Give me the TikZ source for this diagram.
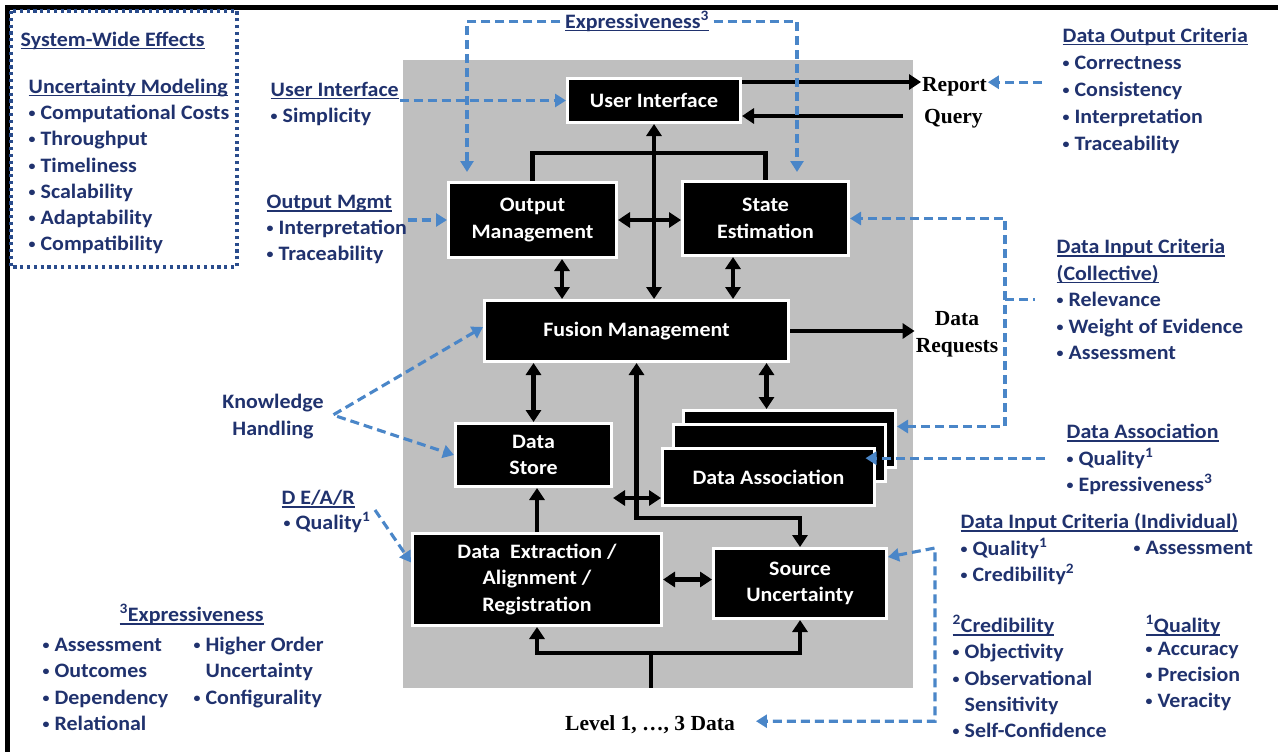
\documentclass[tikz,border=0pt]{standalone}
\usepackage{fontspec}
\usetikzlibrary{arrows.meta}
\newfontfamily\cbf{Carlito}[FakeStretch=1.07]
\newfontfamily\tbf{Liberation Serif}
\definecolor{navy}{RGB}{32,50,110}
\definecolor{dblue}{RGB}{74,134,200}
\definecolor{dotblue}{RGB}{42,76,140}
\definecolor{panelgray}{RGB}{191,191,191}
% underlined heading
\newcommand\ulhd[1]{\setbox0\hbox{#1}\rlap{\rule[-3pt]{\wd0}{1.4pt}}\box0}
% small list bullet
\newcommand\bu{{\fontsize{13}{13}\selectfont\raisebox{2pt}{•}}\hspace{5pt}}
% list of left-aligned lines: name, x, first baseline, line step, lines
\newcommand\labellist[5]{%
  \foreach \t [count=\i from 0] in {#5}{%
    \node[lbl, anchor=base west] (#1-\i) at ({#2},{#3+\i*#4}) {\t};}}
\begin{document}
\begin{tikzpicture}[x=1pt,y=-1pt,
  lbl/.style={font=\cbf\bfseries\fontsize{20.5}{26}\selectfont, text=navy, inner sep=0.5pt},
  tlbl/.style={font=\tbf\bfseries\fontsize{21.5}{25}\selectfont, text=black, inner sep=1pt},
  blk/.style={fill=black, draw=white, line width=3pt, text=white, align=center, inner sep=0pt,
              font=\cbf\bfseries\fontsize{20.5}{26.5}\selectfont},
  ln/.style={line width=4.2pt},
  arr/.style={ln, -{Triangle[length=12pt,width=15pt]}},
  dbl/.style={ln, {Triangle[length=12pt,width=15pt]}-{Triangle[length=12pt,width=15pt]}},
  dashb/.style={draw=dblue, line width=3.1pt, dash pattern=on 9pt off 5pt},
  dto/.style={dashb, -{Triangle[length=11pt,width=13pt]}},
  dboth/.style={dashb, {Triangle[length=11pt,width=13pt]}-{Triangle[length=11pt,width=13pt]}},
]
\useasboundingbox (0,0) rectangle (1278,752);
\fill[white] (0,0) rectangle (1278,752);

% frame and grey panel
\draw[line width=4.5pt] (1278,7.5) -- (7.5,7.5) -- (7.5,752);
\fill[panelgray] (403,60) rectangle (913,688);
\draw[dotblue, line width=3.2pt, dash pattern=on 3.2pt off 3.6pt] (11,11) rectangle (237,267);

% processing blocks
\node[blk, minimum width=173pt, minimum height=44pt] (UI) at (654,100.5) {User Interface};
\node[blk, minimum width=168pt, minimum height=75pt] (OM) at (532.5,220) {Output\\Management};
\node[blk, minimum width=166pt, minimum height=74pt] (SE) at (765.5,218.5) {State\\Estimation};
\node[blk, minimum width=304pt, minimum height=61pt] (FM) at (636.5,331) {Fusion Management};
\node[blk, minimum width=156pt, minimum height=63pt] (DS) at (533.5,455) {Data\\Store};
\node[blk, minimum width=212pt, minimum height=57pt] (DAb) at (789.5,439) {};
\node[blk, minimum width=212pt, minimum height=57pt] (DAm) at (779,453) {};
\node[blk, minimum width=212pt, minimum height=57pt] (DAf) at (768.5,477) {Data Association};
\node[blk, minimum width=249pt, minimum height=92pt] (DE) at (537,579.5) {Data~ Extraction /\\Alignment /\\Registration};
\node[blk, minimum width=173pt, minimum height=70pt] (SU) at (800,583.5) {Source\\Uncertainty};

% serif labels
\node[tlbl, anchor=base west] (rep) at (921,92) {Report};
\node[tlbl, anchor=base west] (qry) at (923,123) {Query};
\node[tlbl, anchor=base] (dreq1) at (957,325) {Data};
\node[tlbl, anchor=base] (dreq2) at (957,352) {Requests};
\node[tlbl, anchor=base] (lvl) at (650,730) {Level 1, …, 3 Data};

% criteria lists
\node[lbl, anchor=base west] (swe) at (20,46.5) {\ulhd{System-Wide Effects}};
\labellist{um}{28}{93.5}{26.17}{\ulhd{Uncertainty Modeling}, \bu Computational Costs, \bu Throughput, \bu Timeliness, \bu Scalability, \bu Adaptability, \bu Compatibility}
\labellist{ui}{270}{96.5}{26}{\ulhd{User Interface}, \bu Simplicity}
\labellist{om}{266}{208.5}{26}{\ulhd{Output Mgmt}, \bu Interpretation, \bu Traceability}
\node[lbl, anchor=base] (kh1) at (273,408.5) {Knowledge};
\node[lbl, anchor=base] (kh2) at (273,435.5) {Handling};
\node[lbl, anchor=base west] (dear) at (281,504.5) {\ulhd{D E/A/R}};
\node[lbl, anchor=base west] (dearq) at (283,529.5) {\bu Quality\textsuperscript{1}};
\node[lbl, anchor=base west] (exl) at (119,621.5) {\ulhd{\textsuperscript{3}Expressiveness}};
\labellist{ea}{42}{651.5}{26.3}{\bu Assessment, \bu Outcomes, \bu Dependency, \bu Relational}
\labellist{eb}{193}{651.5}{26.3}{\bu Higher Order, \phantom{\bu}Uncertainty, \bu Configurality}
\node[lbl, anchor=base] (expr) at (637,28.5) {\ulhd{Expressiveness\textsuperscript{3}}};
\labellist{doc}{1062}{42.5}{27}{\ulhd{Data Output Criteria}, \bu Correctness, \bu Consistency, \bu Interpretation, \bu Traceability}
\labellist{dic}{1056}{253.5}{26.5}{\ulhd{Data Input Criteria}, \ulhd{(Collective)}, \bu Relevance, \bu Weight of Evidence, \bu Assessment}
\labellist{da}{1066}{438.5}{26.5}{\ulhd{Data Association}, \bu Quality\textsuperscript{1}, \bu Epressiveness\textsuperscript{3}}
\labellist{dii}{960}{528.5}{26.5}{\ulhd{Data Input Criteria (Individual)}, \bu Quality\textsuperscript{1}, \bu Credibility\textsuperscript{2}}
\node[lbl, anchor=base west] (diia) at (1133,554.5) {\bu Assessment};
\labellist{cr}{952}{632.5}{26.25}{\ulhd{\textsuperscript{2}Credibility}, \bu Objectivity, \bu Observational, \phantom{\bu}Sensitivity, \bu Self-Confidence}
\node[lbl, anchor=base west] (qh) at (1145,632.5) {\ulhd{\textsuperscript{1}Quality}};
\labellist{qu}{1145}{655.5}{26}{\bu Accuracy, \bu Precision, \bu Veracity}

% black data-flow connectors
\draw[arr] ([yshift=18.5pt]UI.east) -- ([yshift=18.5pt]UI.east -| rep.west);
\coordinate (qend) at ([xshift=-20pt]qry.west);
\draw[arr] ([yshift=-15.5pt]UI.east -| qend) -- ([yshift=-15.5pt]UI.east);
\draw[dbl] (UI.south) -- (UI.south |- FM.north);
\draw[ln] (OM.north) -- ++(0,-28) -| (SE.north);
\draw[dbl] (OM.east) -- (OM.east -| SE.west);
\draw[dbl] ([xshift=29.5pt]OM.south) -- ([xshift=29.5pt]OM.south |- FM.north);
\draw[dbl] ([xshift=-32.5pt]SE.south) -- ([xshift=-32.5pt]SE.south |- FM.north);
\draw[arr] (FM.east) -- (FM.east -| dreq2.west);
\draw[dbl] (DS.north |- FM.south) -- (DS.north);
\draw[dbl] ([xshift=-23pt]DAb.north |- FM.south) -- ([xshift=-23pt]DAb.north);
\draw[dbl] (FM.south) -- ++(0,155) -| (SU.north);
\draw[dbl] ([yshift=-21pt]DAf.west -| DS.east) -- ([yshift=-21pt]DAf.west);
\draw[arr] (DE.north) -- (DE.north |- DS.south);
\draw[dbl] (DE.east) -- (DE.east -| SU.west);
\coordinate (feed) at (651,688);
\draw[arr] (feed) -- ++(0,-35) -| (DE.south);
\draw[arr] (feed) ++(0,-35) -| (SU.south);

% blue criteria connectors
\draw[dto] ([xshift=-4pt]expr.west) -| ([xshift=-65.5pt,yshift=9pt]OM.north);
\draw[dto] ([xshift=4pt]expr.east) -| ([xshift=31.5pt,yshift=8pt]SE.north);
\draw[dto] (UI.west -| ui-0.east) -- (UI.west);
\draw[dto] (OM.west -| om-1.east) -- (OM.west);
\coordinate (dstart) at ([xshift=-20pt]doc-1.west);
\draw[dto] ([yshift=5pt]rep.east -| dstart) -- ([yshift=5pt]rep.east);
\coordinate (cv) at ([xshift=108pt,yshift=12.5pt]DAb.east);
\draw[dboth] ([yshift=12.5pt]DAb.east) -- (cv) |- (SE.east);
\draw[dashb] (cv |- dic-2.west) -- ([xshift=-21pt]dic-2.west);
\draw[dto] ([xshift=-21pt]da-1.west) -- ([xshift=-21pt]da-1.west -| DAm.east);
\coordinate (ic) at (935,548);
\draw[dboth] ([yshift=26.5pt]SU.east) -- (ic) |- ([xshift=20pt,yshift=3pt]lvl.east);
\coordinate (dq) at (375,510);
\draw[dto] (dq) -- ([yshift=17pt]DE.west);
\coordinate (kv) at (333,415);
\draw[dboth] ([yshift=4pt]FM.west) -- (kv) -- (DS.west);
\end{tikzpicture}
\end{document}
